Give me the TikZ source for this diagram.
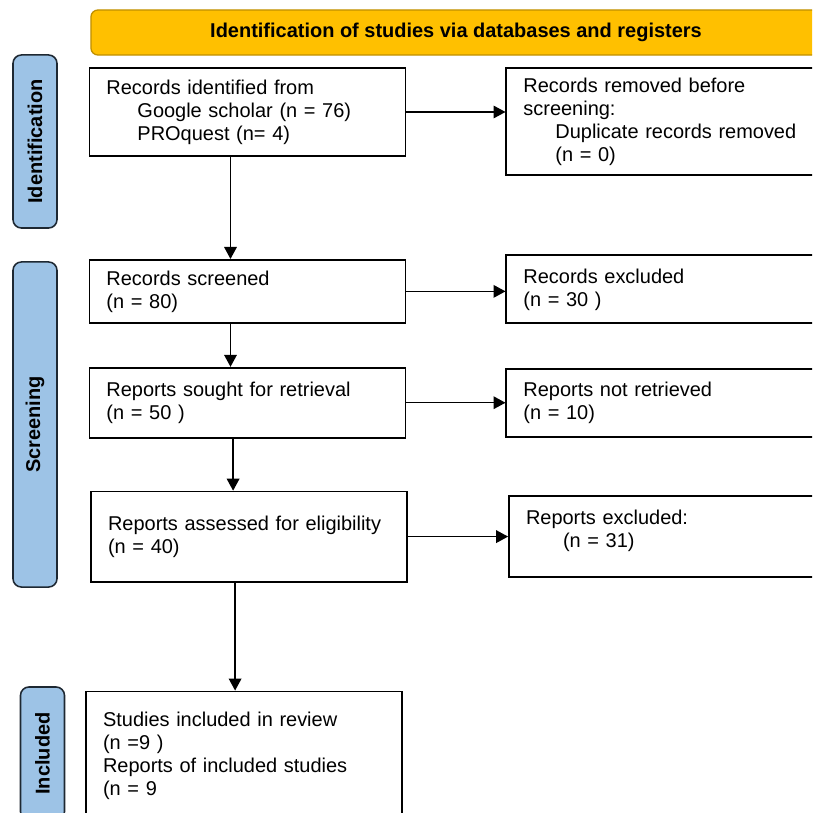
\documentclass[tikz,border=0pt]{standalone}
\usepackage{fontspec}
\setmainfont{Liberation Sans}
\usetikzlibrary{positioning, arrows.meta}
\definecolor{bannergold}{HTML}{FFC000}
\definecolor{bannerline}{HTML}{C09000}
\definecolor{phaseblue}{HTML}{9DC3E6}
\definecolor{phaseline}{HTML}{1E2832}

\begin{document}
\begin{tikzpicture}[
    x=0.025cm, y=-0.025cm,
    every node/.style={font=\fontsize{14.2}{16.4}\selectfont},
    banner/.style={
        rectangle, rounded corners=5pt, draw=bannerline, fill=bannergold,
        line width=0.9pt, minimum width=18.25cm, minimum height=1.125cm,
        font=\fontsize{14.2}{16.4}\selectfont\bfseries
    },
    phase/.style={
        rectangle, rounded corners=6pt, draw=phaseline, fill=phaseblue,
        line width=1.1pt, rotate=90, minimum height=1.1cm,
        font=\fontsize{14.2}{16.4}\selectfont\bfseries
    },
    leftbox/.style={
        rectangle, draw=black, line width=1.3pt, align=left,
        inner xsep=0.425cm, text width=7.05cm
    },
    rightbox/.style={
        rectangle, draw=black, line width=1.3pt, align=left,
        inner xsep=0.425cm, text width=7.5cm
    },
    arr/.style={-{Triangle[length=8.5pt,width=9pt]}, line width=0.9pt, color=black},
]
\useasboundingbox (0,0) rectangle (812,813);
\clip (0,0) rectangle (812,813);

% Banner and phase labels
\node[banner] (head) at (456,32.5) {Identification of studies via databases and registers};
\node[phase, minimum width=4.325cm] (idlab) at (35,141.5) {Identification};
\node[phase, minimum width=8.125cm] (sclab) at (35,424.5) {Screening};
\node[phase, minimum width=3.325cm] (inlab) at (42.5,753.5) {Included};

% Left column
\node[leftbox, minimum height=2.2cm] (ident) at (247.5,112) {Records identified from\\
    \hspace*{0.775cm}Google scholar (n = 76)\\
    \hspace*{0.775cm}PROquest (n= 4)};
\node[leftbox, minimum height=1.575cm, below=2.55cm of ident] (screened) {Records screened\\(n = 80)};
\node[leftbox, minimum height=1.75cm, below=1.075cm of screened] (sought) {Reports sought for retrieval\\(n = 50 )};
\node[leftbox, minimum height=2.25cm, below=1.3cm of sought, xshift=0.04cm] (assessed) {Reports assessed for eligibility\\(n = 40)};
\node[leftbox, minimum height=3.2cm, below=2.7cm of assessed, xshift=-0.125cm] (included) {Studies included in review\\(n =9 )\\
    Reports of included studies\\(n = 9};

% Right column
\node[rightbox, minimum height=2.675cm, below right=0cm and 2.475cm of ident.north east] (removed) {Records removed before\\screening:\\
    \hspace*{0.8cm}Duplicate records removed\\
    \hspace*{0.8cm}(n = 0)};
\node[rightbox, minimum height=1.7cm, right=2.475cm of screened, yshift=0.05cm] (excluded) {Records excluded\\(n = 30 )};
\node[rightbox, minimum height=1.7cm, right=2.475cm of sought] (notret) {Reports not retrieved\\(n = 10)};
\node[rightbox, minimum height=2.025cm, right=2.5cm of assessed] (repexcl) {Reports excluded:\\
    \hspace*{0.925cm}(n = 31)\\[-5pt]\mbox{}};

% Arrows
\draw[arr] (ident.east) -- (removed.west |- ident.east);
\draw[arr] (screened.east) -- (excluded.west |- screened.east);
\draw[arr] (sought.east) -- (notret.west |- sought.east);
\draw[arr] (assessed.east) -- (repexcl.west |- assessed.east);

\draw[arr] ([xshift=-0.425cm]ident.south) -- ([xshift=-0.425cm]ident.south |- screened.north);
\draw[arr] ([xshift=-0.425cm]screened.south) -- ([xshift=-0.425cm]screened.south |- sought.north);
\draw[arr] ([xshift=-0.36cm]sought.south) -- ([xshift=-0.36cm]sought.south |- assessed.north);
\draw[arr] ([xshift=-0.35cm]assessed.south) -- ([xshift=-0.35cm]assessed.south |- included.north);

\end{tikzpicture}
\end{document}
